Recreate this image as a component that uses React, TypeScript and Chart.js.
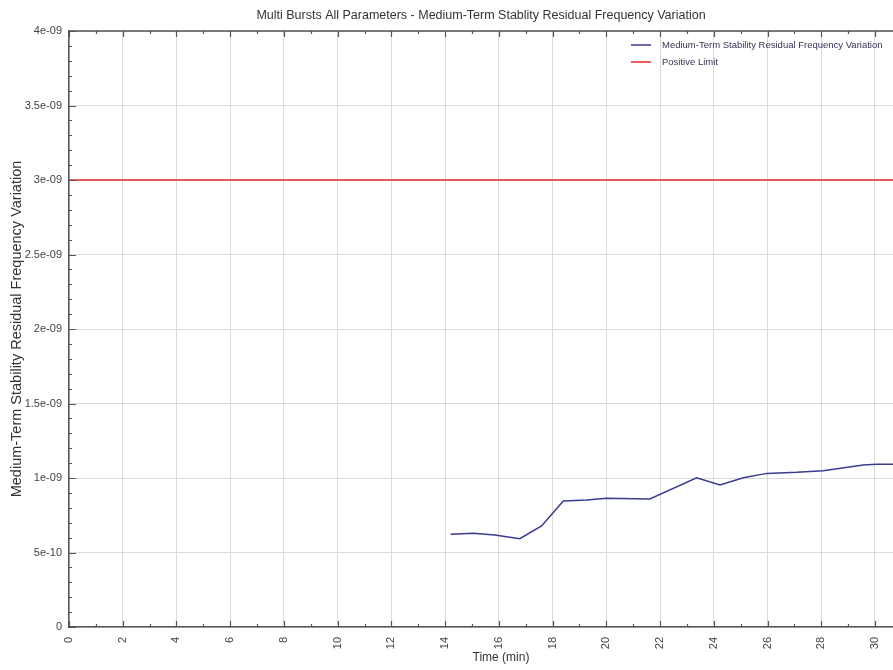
import React, { useEffect, useRef } from 'react';
import { Chart, registerables } from 'chart.js';

Chart.register(...registerables);

const chartTitle = 'Multi Bursts All Parameters - Medium-Term Stablity Residual Frequency Variation';
const xAxisTitle = 'Time (min)';
const yAxisTitle = 'Medium-Term Stability Residual Frequency Variation';
const seriesLabels = ['Medium-Term Stability Residual Frequency Variation', 'Positive Limit'];

const timeMin = [14.2, 15.05, 15.85, 16.78, 17.59, 18.4, 19.27, 20.0, 21.62, 23.36, 24.23, 25.1, 25.97, 27.08, 28.07, 29.56, 30.06, 30.67];
const residual = [6.22e-10, 6.29e-10, 6.17e-10, 5.93e-10, 6.78e-10, 8.46e-10, 8.52e-10, 8.64e-10, 8.59e-10, 1.002e-9, 9.53e-10, 1.002e-9, 1.031e-9, 1.038e-9, 1.049e-9, 1.087e-9, 1.092e-9, 1.092e-9];

const limitTime = [0, 30.67];
const limitValue = [3e-9, 3e-9];

const xTickLabels = ['0', '2', '4', '6', '8', '10', '12', '14', '16', '18', '20', '22', '24', '26', '28', '30'];
const yTickLabels = ['0', '5e-10', '1e-09', '1.5e-09', '2e-09', '2.5e-09', '3e-09', '3.5e-09', '4e-09'];

const X_MIN = 0;
const X_MAX = 30.67;
const X_STEP = 2;
const Y_MIN = 0;
const Y_MAX = 4e-9;
const Y_STEP = 5e-10;

const FONT = 'Arial, "Liberation Sans", sans-serif';

const frameAndTicks = {
  id: 'frameAndTicks',
  afterDraw(chart: any) {
    const { ctx, chartArea } = chart;
    const { left, right, top, bottom } = chartArea;
    const xs = chart.scales.x;
    const ys = chart.scales.y;
    ctx.save();
    ctx.strokeStyle = '#555555';
    ctx.lineWidth = 1.5;
    ctx.beginPath();
    ctx.moveTo(left, top);
    ctx.lineTo(right, top);
    ctx.stroke();
    ctx.lineWidth = 1.2;
    ctx.beginPath();
    for (let v = Math.ceil(xs.min); v <= xs.max; v++) {
      const px = Math.round(xs.getPixelForValue(v)) + 0.5;
      const len = v % X_STEP === 0 ? 6 : 3;
      ctx.moveTo(px, bottom);
      ctx.lineTo(px, bottom - len);
      ctx.moveTo(px, top);
      ctx.lineTo(px, top + len);
    }
    const minor = Y_STEP / 5;
    const n = Math.round((ys.max - ys.min) / minor);
    for (let i = 0; i <= n; i++) {
      const v = ys.min + i * minor;
      const py = Math.round(ys.getPixelForValue(v)) + 0.5;
      const len = i % 5 === 0 ? 7 : 3;
      ctx.moveTo(left, py);
      ctx.lineTo(left + len, py);
    }
    ctx.stroke();

    // x axis title (offset as in the reference)
    ctx.font = `12px ${FONT}`;
    ctx.fillStyle = '#333333';
    ctx.textAlign = 'center';
    ctx.textBaseline = 'middle';
    ctx.fillText(xAxisTitle, (left + right) / 2 + 20, chart.height - 12);

    // legend inside plot area
    ctx.font = `9.5px ${FONT}`;
    ctx.textBaseline = 'middle';
    ctx.textAlign = 'left';
    chart.data.datasets.forEach((ds: any, i: number) => {
      const y = top + 14 + i * 17;
      const x0 = right - 262;
      ctx.strokeStyle = ds.borderColor;
      ctx.lineWidth = 1.5;
      ctx.beginPath();
      ctx.moveTo(x0, y);
      ctx.lineTo(x0 + 20, y);
      ctx.stroke();
      ctx.fillStyle = '#333355';
      ctx.fillText(ds.label, x0 + 31, y);
    });
    ctx.restore();
  },
};

export default function App() {
  const ref = useRef<HTMLCanvasElement | null>(null);

  useEffect(() => {
    if (!ref.current) return;
    const chart = new Chart(ref.current, {
      type: 'scatter',
      data: {
        datasets: [
          {
            label: seriesLabels[0],
            data: timeMin.map((t, i) => ({ x: t, y: residual[i] })),
            showLine: true,
            borderColor: '#3a3a90',
            borderWidth: 1.5,
            pointRadius: 0,
            tension: 0,
          },
          {
            label: seriesLabels[1],
            data: limitTime.map((t, i) => ({ x: t, y: limitValue[i] })),
            showLine: true,
            borderColor: '#e22a2a',
            borderWidth: 1.5,
            pointRadius: 0,
          },
        ],
      },
      options: {
        responsive: false,
        animation: false,
        layout: { padding: 0 },
        plugins: {
          legend: { display: false },
          tooltip: { enabled: false },
          title: {
            display: true,
            text: chartTitle,
            fullSize: false,
            color: '#333333',
            font: { family: FONT, size: 12.5, weight: 'normal' },
            padding: { top: 8, bottom: 8 },
          },
        },
        scales: {
          x: {
            type: 'linear',
            min: X_MIN,
            max: X_MAX,
            afterFit: (s: any) => { s.height = 43; s.paddingRight = 0; s.paddingLeft = 0; },
            ticks: {
              stepSize: X_STEP,
              includeBounds: false,
              autoSkip: false,
              maxRotation: 90,
              minRotation: 90,
              padding: 10,
              color: '#444444',
              font: { family: FONT, size: 11 },
              callback: (_v: any, i: number) => xTickLabels[i] ?? '',
            },
            grid: { color: '#dadada', lineWidth: 1, drawTicks: false },
            border: { display: true, color: '#555555', width: 1.5 },
            title: { display: false },
          },
          y: {
            type: 'linear',
            min: Y_MIN,
            max: Y_MAX,
            afterFit: (s: any) => { s.width = 69; },
            ticks: {
              stepSize: Y_STEP,
              includeBounds: false,
              autoSkip: false,
              padding: 7,
              color: '#444444',
              font: { family: FONT, size: 11 },
              callback: (_v: any, i: number) => yTickLabels[i] ?? '',
            },
            grid: { color: '#dadada', lineWidth: 1, drawTicks: false },
            border: { display: true, color: '#555555', width: 1.5 },
            title: {
              display: true,
              text: yAxisTitle,
              color: '#333333',
              font: { family: FONT, size: 14.5 },
              padding: { top: 8.5, bottom: 0 },
            },
          },
        },
      },
      plugins: [frameAndTicks],
    });
    return () => chart.destroy();
  }, []);

  return (
    <div style={{ position: 'fixed', left: 0, top: 0, width: 893, height: 670, background: '#ffffff', overflow: 'hidden' }}>
      <canvas ref={ref} width={893} height={670} />
    </div>
  );
}
